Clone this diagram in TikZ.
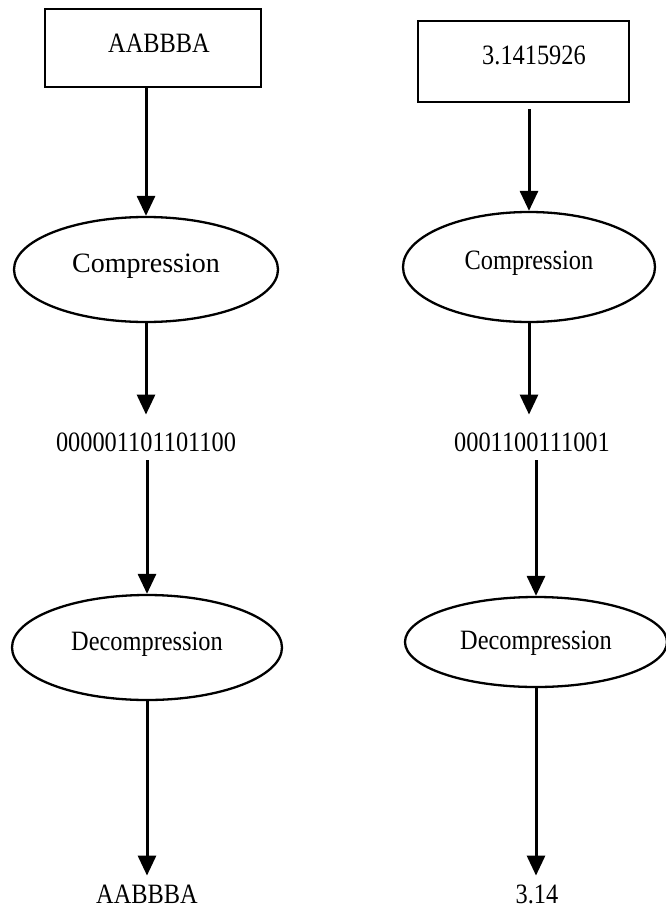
\documentclass[tikz,border=0pt]{standalone}
\usepackage{fontspec}
\setmainfont{Liberation Serif}
\newfontfamily\cond[FakeStretch=0.87]{Liberation Serif}
\usetikzlibrary{shapes.geometric,arrows.meta}
\begin{document}
\begin{tikzpicture}[x=1pt,y=1pt,
  boxst/.style={draw,line width=2.5pt,rectangle,inner sep=0pt},
  txt/.style={inner sep=0pt,text height=18.5pt,text depth=0pt,font=\cond\fontsize{28}{30}\selectfont},
  ell/.style={draw,ellipse,line width=2.3pt,inner sep=0pt,text height=18.5pt,text depth=0pt,font=\cond\fontsize{28}{30}\selectfont},
  arr/.style={line width=3pt,-{Triangle[length=20pt,width=18pt]}}]
\useasboundingbox (0,0) rectangle (665,-910);
% left column
\node[boxst,minimum width=216pt,minimum height=78pt,
      label={[txt,xshift=6pt,yshift=5pt]center:AABBBA}] (box1) at (153,-48) {};
\node[ell,minimum width=264pt,minimum height=105pt,font=\fontsize{28}{30}\selectfont]
      (comp1) at (146,-269.5) {\raisebox{6pt}{Compression}};
\node[txt] (bits1) at (146,-442) {000001101101100};
\node[ell,minimum width=270pt,minimum height=105pt]
      (decomp1) at (147,-647.5) {\raisebox{6pt}{Decompression}};
\node[txt] (out1) at (147,-894) {AABBBA};
\coordinate (t1) at ([yshift=18pt]bits1.north);
\coordinate (s1) at ([yshift=-9pt]bits1.south);
\coordinate (u1) at ([yshift=9pt]out1.north);
\draw[arr] (box1.south -| comp1.north) -- (comp1.north);
\draw[arr] (comp1.south) -- (t1 -| comp1.south);
\draw[arr] (s1 -| decomp1.north) -- (decomp1.north);
\draw[arr] (decomp1.south) -- (u1 -| decomp1.south);
% right column
\node[boxst,minimum width=211pt,minimum height=81pt,
      label={[txt,xshift=10.5pt,yshift=6.5pt]center:3.1415926}] (box2) at (523.5,-61.5) {};
\node[ell,minimum width=252pt,minimum height=110pt]
      (comp2) at (529,-267) {\raisebox{7pt}{Compression}};
\node[txt] (bits2) at (532,-442) {0001100111001};
\node[ell,minimum width=262pt,minimum height=90pt]
      (decomp2) at (536,-642) {\raisebox{2pt}{Decompression}};
\node[txt] (out2) at (537,-894) {3.14};
\coordinate (b2) at ([yshift=-6pt]box2.south);
\coordinate (t2) at ([yshift=18pt]bits2.north);
\coordinate (s2) at ([yshift=-9pt]bits2.south);
\coordinate (u2) at ([yshift=9pt]out2.north);
\draw[arr] (b2 -| comp2.north) -- (comp2.north);
\draw[arr] (comp2.south) -- (t2 -| comp2.south);
\draw[arr] (s2 -| decomp2.north) -- (decomp2.north);
\draw[arr] (decomp2.south) -- (u2 -| decomp2.south);
\end{tikzpicture}
\end{document}
